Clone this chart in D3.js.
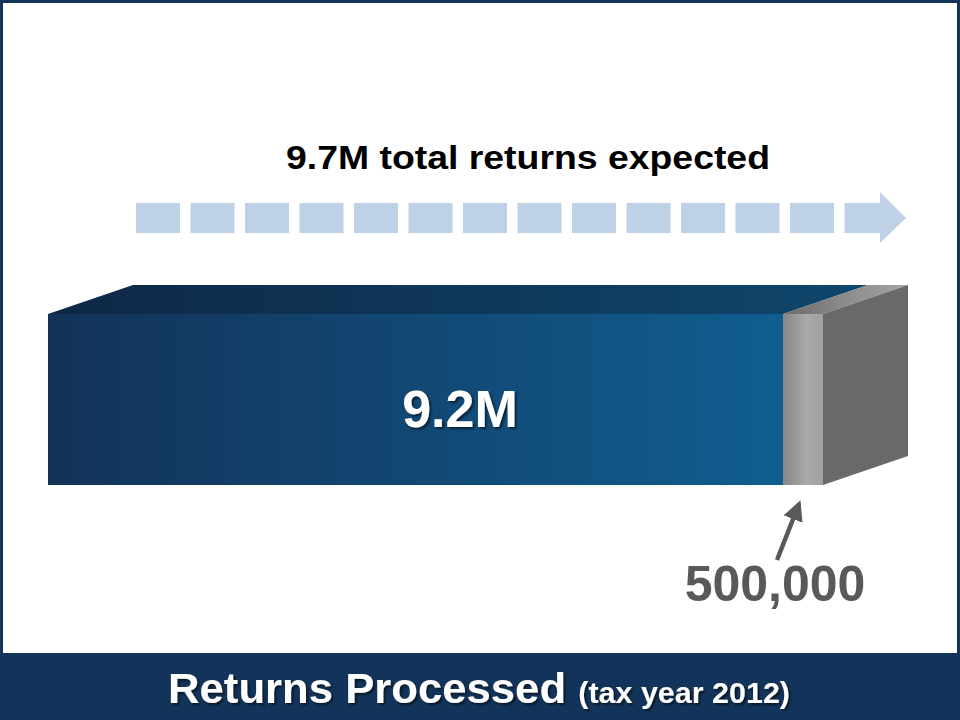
<!DOCTYPE html>
<html>
<head>
<meta charset="utf-8">
<script src="https://cdn.jsdelivr.net/npm/d3@7"></script>
<style>
  html, body { margin: 0; padding: 0; background: #fff; }
  svg { display: block; font-family: "Liberation Sans", Arial, sans-serif; }
</style>
</head>
<body>
<div id="chart"></div>
<script>
// Data
var segments = ["Processed", "Remaining"];
var values = [9.2, 0.5];
var labels = ["9.2M", "500,000"];
var totalLabel = "9.7M total returns expected";
var title = "Returns Processed";
var subtitle = "(tax year 2012)";

var W = 960, H = 720;
var total = d3.sum(values);

// bar geometry
var barTop = 314, barBottom = 485;
var depthX = 85, depthY = -29;

var x = d3.scaleLinear().domain([0, total]).range([48, 823]);

var svg = d3.select('#chart').append('svg')
    .attr('width', W)
    .attr('height', H);

var defs = svg.append('defs');

// gradients
function linGrad(id, stops) {
    var g = defs.append('linearGradient').attr('id', id)
        .attr('x1', 0).attr('x2', 1).attr('y1', 0).attr('y2', 0);
    stops.forEach(function (s) {
        g.append('stop').attr('offset', s[0]).attr('stop-color', s[1]);
    });
}
linGrad('frontBlue', [[0, '#133258'], [1, '#105e90']]);
linGrad('topBlue', [[0, '#0f2746'], [1, '#0e476c']]);
linGrad('frontGrey', [[0, '#858585'], [0.6, '#aaaaaa'], [1, '#a0a0a0']]);
linGrad('topGrey', [[0, '#6a6a6a'], [0.5, '#8c8c8c'], [1, '#a5a5a5']]);

var shadow = defs.append('filter').attr('id', 'shadow')
    .attr('x', '-10%').attr('y', '-10%').attr('width', '130%').attr('height', '140%');
shadow.append('feDropShadow').attr('dx', 2).attr('dy', 2)
    .attr('stdDeviation', 1.2).attr('flood-color', '#000').attr('flood-opacity', 0.55);

// frame
var navy = '#13345a';
svg.append('rect').attr('x', 0).attr('y', 0).attr('width', W).attr('height', H).attr('fill', navy);
svg.append('rect').attr('x', 3).attr('y', 3).attr('width', W - 6).attr('height', 650).attr('fill', '#fff');

// cumulative positions
var stack = [];
var acc = 0;
values.forEach(function (v, i) {
    stack.push({ name: segments[i], x0: acc, x1: acc + v, label: labels[i] });
    acc += v;
});

var fronts = ['url(#frontBlue)', 'url(#frontGrey)'];
var tops = ['url(#topBlue)', 'url(#topGrey)'];

var bar = svg.append('g');

// top faces
bar.selectAll('path.top')
    .data(stack)
    .enter().append('path')
    .attr('class', 'top')
    .attr('fill', function (d, i) { return tops[i]; })
    .attr('d', function (d) {
        var a = x(d.x0), b = x(d.x1);
        return 'M' + a + ',' + barTop + 'L' + (a + depthX) + ',' + (barTop + depthY) +
            'L' + (b + depthX) + ',' + (barTop + depthY) + 'L' + b + ',' + barTop + 'Z';
    });

// front faces
bar.selectAll('rect.front')
    .data(stack)
    .enter().append('rect')
    .attr('class', 'front')
    .attr('x', function (d) { return x(d.x0); })
    .attr('y', barTop)
    .attr('width', function (d) { return x(d.x1) - x(d.x0); })
    .attr('height', barBottom - barTop)
    .attr('fill', function (d, i) { return fronts[i]; });

// right side face
var xr = x(total);
bar.append('path')
    .attr('fill', '#696969')
    .attr('d', 'M' + xr + ',' + barTop + 'L' + (xr + depthX) + ',' + (barTop + depthY) +
        'L' + (xr + depthX) + ',' + (barBottom + depthY) + 'L' + xr + ',' + barBottom + 'Z');

// big label inside the blue segment
svg.append('text')
    .attr('x', 460)
    .attr('y', 427)
    .attr('text-anchor', 'middle')
    .attr('font-size', 52)
    .attr('font-weight', 'bold')
    .attr('fill', '#fff')
    .attr('filter', 'url(#shadow)')
    .text(stack[0].label);

// dashed arrow for the total
var dashY = 203, dashH = 30;
var dashStep = 54.5, dashW = 44;
var dashes = d3.range(13).map(function (i) { return 136 + i * dashStep; });
svg.append('g').selectAll('rect')
    .data(dashes)
    .enter().append('rect')
    .attr('x', function (d) { return d; })
    .attr('y', dashY)
    .attr('width', dashW)
    .attr('height', dashH)
    .attr('fill', '#bfd1e6');

var ax = 136 + 13 * dashStep;
svg.append('path')
    .attr('fill', '#bfd1e6')
    .attr('d', 'M' + ax + ',' + dashY + 'L880,' + dashY + 'L880,192L906,218L880,243L880,' +
        (dashY + dashH) + 'L' + ax + ',' + (dashY + dashH) + 'Z');

svg.append('text')
    .attr('x', 528)
    .attr('y', 169)
    .attr('text-anchor', 'middle')
    .attr('font-size', 33)
    .attr('font-weight', 'bold')
    .attr('fill', '#000')
    .attr('textLength', 484)
    .attr('lengthAdjust', 'spacingAndGlyphs')
    .text(totalLabel);

// pointer to the grey segment
var grey = '#595959';
defs.append('marker').attr('id', 'head')
    .attr('viewBox', '0 0 10 10').attr('refX', 8).attr('refY', 5)
    .attr('markerWidth', 4.5).attr('markerHeight', 4.5).attr('orient', 'auto')
    .append('path').attr('d', 'M0,0L10,5L0,10Z').attr('fill', grey);

svg.append('line')
    .attr('x1', 777).attr('y1', 560)
    .attr('x2', 799).attr('y2', 504)
    .attr('stroke', grey)
    .attr('stroke-width', 4.5)
    .attr('marker-end', 'url(#head)');

svg.append('text')
    .attr('x', 775)
    .attr('y', 601)
    .attr('text-anchor', 'middle')
    .attr('font-size', 50)
    .attr('font-weight', 'bold')
    .attr('fill', grey)
    .text(stack[1].label);

// title in the bottom band (condensed look)
var t = svg.append('text')
    .attr('x', 479)
    .attr('y', 703)
    .attr('text-anchor', 'middle')
    .attr('font-weight', 'bold')
    .attr('fill', '#fff')
    .attr('filter', 'url(#shadow)')
    .attr('textLength', 622)
    .attr('lengthAdjust', 'spacingAndGlyphs');
t.append('tspan').attr('font-size', 43).text(title + ' ');
t.append('tspan').attr('font-size', 30).text(subtitle);
</script>
</body>
</html>
